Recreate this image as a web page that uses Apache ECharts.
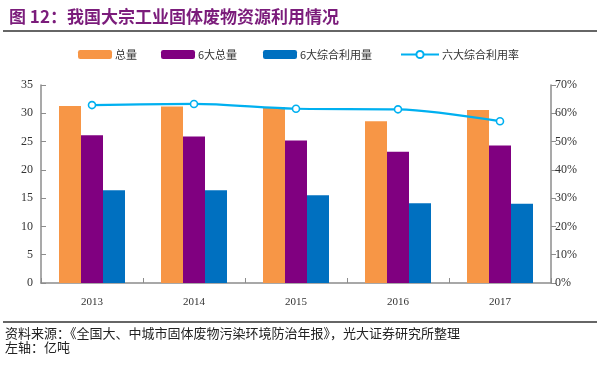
<!DOCTYPE html>
<html><head><meta charset="utf-8">
<script src="https://cdn.jsdelivr.net/npm/echarts@6/dist/echarts.min.js"></script>
<style>html,body{margin:0;padding:0;background:#fff}#c{width:600px;height:369px}</style>
</head><body><div id="c"></div>
<script>
var years = ['2013','2014','2015','2016','2017'];
var totalAmt = [31.3, 31.2, 31.1, 28.6, 30.6];
var sixTotal = [26.1, 25.9, 25.2, 23.2, 24.3];
var sixUsed = [16.4, 16.4, 15.5, 14.1, 14.0];
var useRate = [62.9, 63.3, 61.6, 61.4, 57.2];
var leftTicks = [0, 35, 5];
var rightTicks = [0, 70, 10];

var serif = '"Liberation Serif", "Noto Sans CJK SC", serif';
var cjk = '"Noto Sans CJK SC", sans-serif';
var axisColor = '#8c8c8c';
var chart = echarts.init(document.getElementById('c'), null, {renderer:'canvas'});
function lg(name, left, w, h){
  return {data:[name], left:left, top:49, itemWidth:w, itemHeight:h, itemGap:0,
    textStyle:{fontFamily:cjk, fontSize:11, color:'#333', padding:[0,0,0,-2]}, padding:0};
}
chart.setOption({
  animation:false,
  title:{text:'图 12：我国大宗工业固体废物资源利用情况', left:4, top:3,
    textStyle:{fontFamily:cjk, fontSize:17, fontWeight:'bold', color:'#7B1C7B'}},
  legend:[
    lg('总量', 78, 34, 9),
    lg('6大总量', 161, 34, 9),
    lg('6大综合利用量', 263, 34, 9),
    lg('六大综合利用率', 400, 38, 9)
  ],
  graphic:[
    {type:'line', shape:{x1:3,y1:31,x2:597,y2:31}, style:{stroke:'#333', lineWidth:1.5}},
    {type:'line', shape:{x1:3,y1:322,x2:597,y2:322}, style:{stroke:'#333', lineWidth:1.5}},
    {type:'text', left:5, top:327, style:{text:'资料来源：《全国大、中城市固体废物污染环境防治年报》，光大证券研究所整理', font:'13px "Noto Sans CJK SC"', fill:'#222'}},
    {type:'text', left:5, top:341, style:{text:'左轴：亿吨', font:'13px "Noto Sans CJK SC"', fill:'#222'}}
  ],
  grid:{left:41, right:49, top:85, bottom:86, containLabel:false},
  xAxis:{type:'category', data:years, boundaryGap:true,
    axisLine:{lineStyle:{color:axisColor, width:1.5}},
    axisTick:{show:true, inside:true, length:5, interval:0, lineStyle:{color:axisColor}},
    axisLabel:{fontFamily:serif, fontSize:11, color:'#333', margin:14}},
  yAxis:[
    {type:'value', min:leftTicks[0], max:leftTicks[1], interval:leftTicks[2],
      axisLine:{show:true, lineStyle:{color:axisColor, width:1.5}},
      axisTick:{show:true, inside:true, length:5, lineStyle:{color:axisColor}},
      splitLine:{show:false},
      axisLabel:{fontFamily:serif, fontSize:12, color:'#333', margin:8}},
    {type:'value', min:rightTicks[0], max:rightTicks[1], interval:rightTicks[2], position:'right',
      axisLine:{show:true, lineStyle:{color:axisColor, width:1.5}},
      axisTick:{show:true, inside:false, length:5, lineStyle:{color:axisColor}},
      splitLine:{show:false},
      axisLabel:{fontFamily:serif, fontSize:12, color:'#333', margin:4, formatter:'{value}%'}}
  ],
  series:[
    {name:'总量', type:'bar', data:totalAmt, barWidth:22, barGap:0,
      itemStyle:{color:'#F79646'}},
    {name:'6大总量', type:'bar', data:sixTotal, barWidth:22, barGap:0,
      itemStyle:{color:'#800080'}},
    {name:'6大综合利用量', type:'bar', data:sixUsed, barWidth:22, barGap:0,
      itemStyle:{color:'#0070C0'}},
    {name:'六大综合利用率', type:'line', yAxisIndex:1, data:useRate, smooth:0.3,
      symbol:'circle', symbolSize:7,
      lineStyle:{color:'#00B0F0', width:2.2},
      itemStyle:{color:'#fff', borderColor:'#00B0F0', borderWidth:1.6}}
  ]
});
</script></body></html>
